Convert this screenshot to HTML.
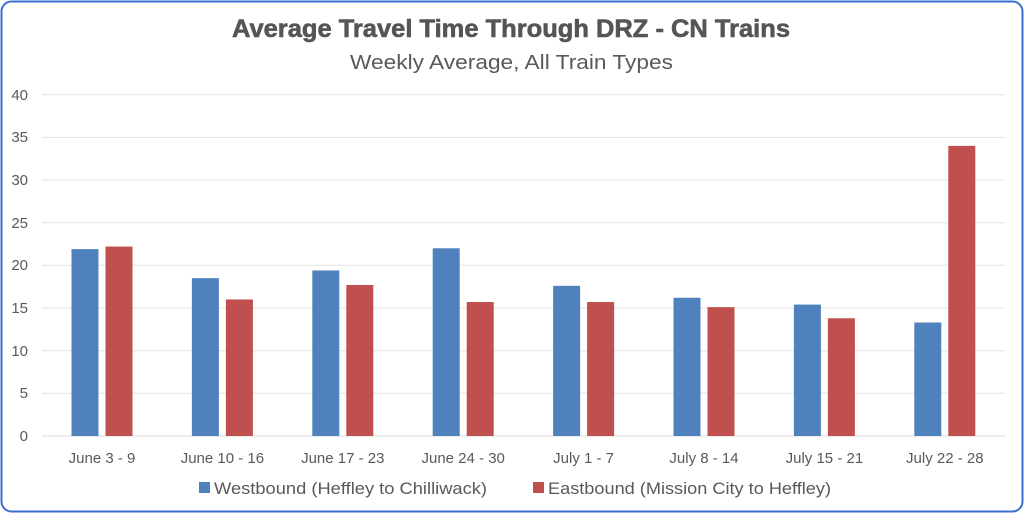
<!DOCTYPE html>
<html><head><meta charset="utf-8"><style>
body{margin:0;background:#fff;}
svg{display:block;font-family:"Liberation Sans",sans-serif;}
</style></head><body>
<svg width="1024" height="513" viewBox="0 0 1024 513">
<rect x="1.5" y="1.5" width="1021" height="510" rx="10" fill="#fff" stroke="#3a6fcf" stroke-width="2"/>
<text x="232" y="37" textLength="558" lengthAdjust="spacingAndGlyphs" font-size="25" font-weight="bold" fill="#555" stroke="#555" stroke-width="0.6">Average Travel Time Through DRZ - CN Trains</text>
<text x="350" y="69" textLength="323" lengthAdjust="spacingAndGlyphs" font-size="20" fill="#595959">Weekly Average, All Train Types</text>
<g stroke="#e3e3e3" stroke-width="1">
<line x1="42" x2="1005" y1="94.7" y2="94.7"/><line x1="42" x2="1005" y1="137.4" y2="137.4"/>
<line x1="42" x2="1005" y1="180" y2="180"/><line x1="42" x2="1005" y1="222.7" y2="222.7"/>
<line x1="42" x2="1005" y1="265.3" y2="265.3"/><line x1="42" x2="1005" y1="308" y2="308"/>
<line x1="42" x2="1005" y1="350.7" y2="350.7"/><line x1="42" x2="1005" y1="393.3" y2="393.3"/>
<line x1="42" x2="1005" y1="436" y2="436" stroke="#d9d9d9"/>
</g>
<g font-size="15" fill="#595959" text-anchor="end">
<text x="28" y="100">40</text><text x="28" y="142">35</text><text x="28" y="185">30</text><text x="28" y="228">25</text>
<text x="28" y="270">20</text><text x="28" y="313">15</text><text x="28" y="356">10</text><text x="28" y="398">5</text><text x="28" y="441">0</text>
</g>
<g id="bars"></g>
<g font-size="15" fill="#595959" text-anchor="middle" id="labels"></g>
<rect x="199" y="482" width="11" height="11" fill="#4f81bd"/>
<text x="214" y="494" textLength="273" lengthAdjust="spacingAndGlyphs" font-size="17" fill="#595959">Westbound (Heffley to Chilliwack)</text>
<rect x="533" y="482" width="11" height="11" fill="#c0504d"/>
<text x="548" y="494" textLength="283" lengthAdjust="spacingAndGlyphs" font-size="17" fill="#595959">Eastbound (Mission City to Heffley)</text>
<script>
var w=[21.9,18.5,19.4,22.0,17.6,16.2,15.4,13.3],e=[22.2,16.0,17.7,15.7,15.7,15.1,13.8,34.0];
var L=["June 3 - 9","June 10 - 16","June 17 - 23","June 24 - 30","July 1 - 7","July 8 - 14","July 15 - 21","July 22 - 28"];
var ns="http://www.w3.org/2000/svg",b=document.getElementById("bars"),lb=document.getElementById("labels");
for(var i=0;i<8;i++){var c=102+i*120.4;
[[w[i],c-30.5,"#4f81bd"],[e[i],c+3.5,"#c0504d"]].forEach(function(d){var r=document.createElementNS(ns,"rect");var h=d[0]*8.533;
r.setAttribute("x",d[1]);r.setAttribute("y",436-h);r.setAttribute("width",27);r.setAttribute("height",h);r.setAttribute("fill",d[2]);b.appendChild(r);});
var t=document.createElementNS(ns,"text");t.setAttribute("x",c);t.setAttribute("y",463);t.textContent=L[i];lb.appendChild(t);}
</script>
</svg>
</body></html>
